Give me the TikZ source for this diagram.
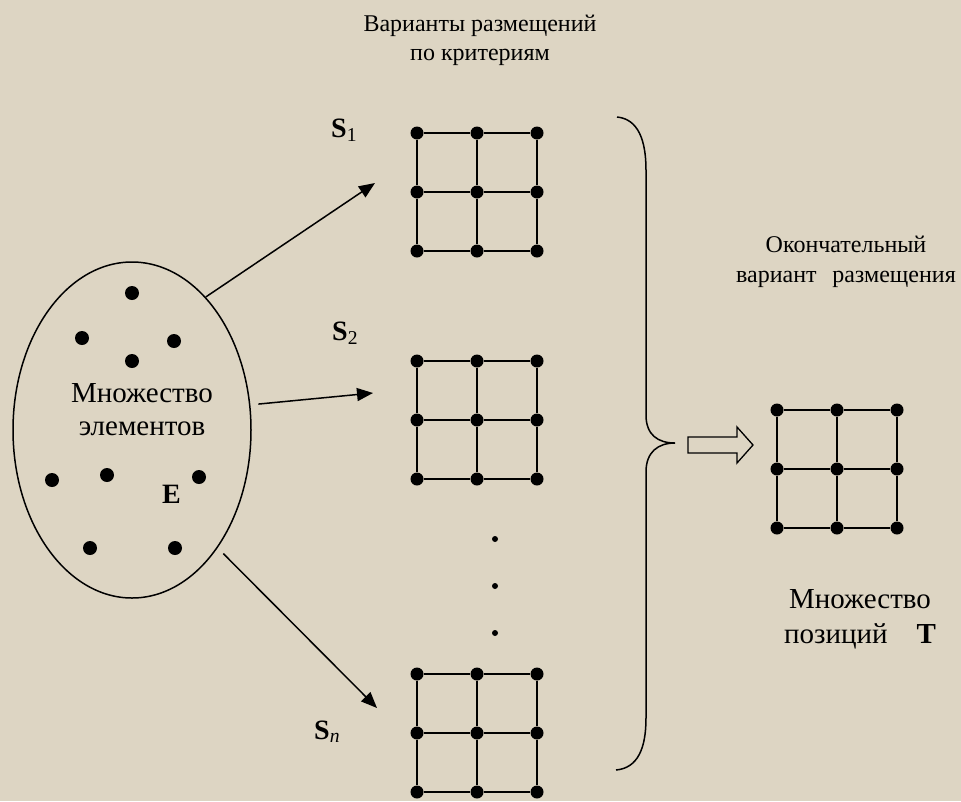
\documentclass[tikz,border=0pt]{standalone}
\usepackage{fontspec}
\setmainfont{Liberation Serif}
\usetikzlibrary{shapes.geometric,arrows.meta}
\definecolor{canvas}{RGB}{221,213,195}
\tikzset{
  griddot/.style={circle,fill=black,inner sep=0pt,minimum size=13pt},
  elemdot/.style={circle,fill=black,inner sep=0pt,minimum size=14pt},
  smalldot/.style={circle,fill=black,inner sep=0pt,minimum size=6pt},
  gridline/.style={line width=1.8pt},
  feed/.style={line width=1.5pt,shorten <=#1,-{Triangle[length=16pt,width=13pt]}},
  feed/.default=0pt,
  bigtxt/.style={inner sep=0pt,anchor=base,font=\fontsize{29}{34}\selectfont},
  smalltxt/.style={inner sep=0pt,anchor=base,font=\fontsize{24}{29}\selectfont},
  setname/.style={inner sep=0pt,anchor=base west,font=\fontsize{28}{33}\selectfont},
}
% 3x3 net of positions: name, x and y of the upper left dot
\newcommand\placementnet[3]{%
  \foreach \i in {0,1,2}{\foreach \j in {0,1,2}{
    \node[griddot] (#1-\i-\j) at ({#2+60*\i},{#3+59*\j}) {};}}
  \foreach \i in {0,1,2}{
    \draw[gridline] (#1-\i-0) -- (#1-\i-1) -- (#1-\i-2);
    \draw[gridline] (#1-0-\i) -- (#1-1-\i) -- (#1-2-\i);}
}
\begin{document}
\begin{tikzpicture}[x=1pt,y=-1pt]
\useasboundingbox (0,0) rectangle (961,801);
\fill[canvas] (0,0) rectangle (961,801);

% headings
\node[smalltxt] (head1) at (480,31) {Варианты размещений};
\node[smalltxt] (head2) at (480,60) {по критериям};
\node[smalltxt] (fin1) at (846,252) {Окончательный};
\node[smalltxt] (fin2) at (846,282) {вариант\hspace{0.4em} размещения};

% set of elements
\node[draw,ellipse,line width=1.5pt,minimum width=238pt,minimum height=336pt,inner sep=0pt] (E) at (132,430) {};
\foreach \n/\x/\y in {a/132/293,b/82/338,c/174/341,d/132/361,e/52/480,f/107/475,g/199/477,h/90/548,k/175/548}
  \node[elemdot] (el-\n) at (\x,\y) {};
\node[bigtxt] (elt1) at (142,402) {Множество};
\node[bigtxt] (elt2) at (142,435) {элементов};
\node[bigtxt,anchor=base west,font=\fontsize{28}{33}\selectfont\bfseries] (Elab) at (162,503) {E};

% placement variants
\placementnet{sa}{417}{133}
\placementnet{sb}{417}{361}
\placementnet{sn}{417}{674}
\node[setname] (S1) at (331,137) {\textbf{S}\textsubscript{1}};
\node[setname] (S2) at (332,340) {\textbf{S}\textsubscript{2}};
\node[setname] (Sn) at (314,739) {\textbf{S}\textsubscript{\itshape n}};
\foreach \y/\n in {539/1,586/2,633/3}
  \node[smalldot] (gap\n) at (495,\y) {};

% arrows from the set to the variants
\coordinate (in1) at (375,183);
\coordinate (in2) at (373,393);
\coordinate (in3) at (377,708);
\draw[feed] (E.61) -- (in1);
\draw[feed=8pt] (E.12) -- (in2);
\draw[feed=8pt] (E.-54) -- (in3);

% brace collecting the variants
\coordinate (brtop) at (617,117);
\coordinate (brtip) at (675,443);
\coordinate (brbot) at (616,770);
\draw[line width=1.5pt] (brtop) .. controls (638,119) and (646,140) .. (646,170)
  -- (646,415) .. controls (646,435) and (658,443) .. (brtip)
  .. controls (658,443) and (646,452) .. (646,472)
  -- (646,718) .. controls (646,748) and (638,768) .. (brbot);

% hollow arrow to the final variant
\draw[line width=1.3pt,fill=canvas] (688,437) -- (737,437) -- (737,427) -- (753,445)
  -- (737,463) -- (737,453) -- (688,453) -- cycle;

% final placement
\placementnet{t}{777}{410}
\node[bigtxt] (pos1) at (860,608) {Множество};
\node[bigtxt] (pos2) at (860,643) {позиций\hspace{1em}\textbf{T}};
\end{tikzpicture}
\end{document}
